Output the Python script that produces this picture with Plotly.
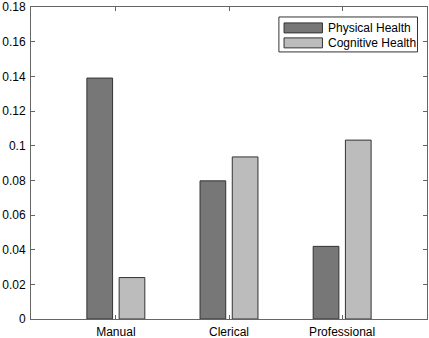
import plotly.graph_objects as go

categories = ["Manual", "Clerical", "Professional"]
series_names = ["Physical Health", "Cognitive Health"]
physical = [0.139, 0.0797, 0.0419]
cognitive = [0.0239, 0.0935, 0.1032]
y_ticks = [0, 0.02, 0.04, 0.06, 0.08, 0.1, 0.12, 0.14, 0.16, 0.18]
y_ticktext = ["0", "0.02", "0.04", "0.06", "0.08", "0.1", "0.12", "0.14", "0.16", "0.18"]

colors = ["#777777", "#bcbcbc"]
x_pos = [1, 2, 3]
FONT = "Liberation Sans, Arial, sans-serif"

fig = go.Figure()
for name, vals, col, off in [(series_names[0], physical, colors[0], -0.256),
                             (series_names[1], cognitive, colors[1], 0.029)]:
    fig.add_trace(go.Bar(
        x=x_pos, y=vals, name=name, width=0.227, offset=off,
        marker=dict(color=col, line=dict(color="#333333", width=1)),
        showlegend=False, hoverinfo="skip",
    ))

axis_col = "#666666"
fig.update_xaxes(
    range=[0.25, 3.75], tickvals=x_pos, ticktext=categories,
    ticks="inside", ticklen=4, tickcolor=axis_col, mirror="ticks",
    showline=True, linecolor=axis_col, linewidth=1, showgrid=False, zeroline=False,
    tickfont=dict(family=FONT, size=12, color="#000000"), ticklabeloverflow="allow",
    automargin=False, ticklabelstandoff=2,
)
fig.update_yaxes(
    range=[0, 0.18], tickvals=y_ticks, ticktext=y_ticktext,
    ticks="inside", ticklen=4, tickcolor=axis_col, mirror="ticks",
    showline=True, linecolor=axis_col, linewidth=1, showgrid=False, zeroline=False,
    tickfont=dict(family=FONT, size=12, color="#000000"), ticklabeloverflow="allow",
    automargin=False, ticklabelstandoff=2,
)

# custom MATLAB-style legend (paper coords, plot area 31..427 x 7..319 px)
shapes = [dict(type="rect", xref="paper", yref="paper", x0=0.626, x1=0.976, y0=0.856, y1=0.968,
               line=dict(color="#333333", width=1), fillcolor="white")]
annotations = []
sw_y = [(0.917, 0.949), (0.869, 0.901)]
for i, name in enumerate(series_names):
    y0, y1 = sw_y[i]
    shapes.append(dict(type="rect", xref="paper", yref="paper", x0=0.639, x1=0.736, y0=y0, y1=y1,
                       line=dict(color="#333333", width=1), fillcolor=colors[i]))
    annotations.append(dict(xref="paper", yref="paper", x=0.745, y=(y0 + y1) / 2, text=name,
                            showarrow=False, xanchor="left", yanchor="middle",
                            font=dict(family=FONT, size=12, color="#000000")))

fig.update_layout(
    width=429, height=338,
    margin=dict(l=31, r=2, t=7, b=19),
    plot_bgcolor="white", paper_bgcolor="white",
    shapes=shapes, annotations=annotations,
    font=dict(family=FONT, size=12, color="#000000"),
)
fig.write_html("out.html", config={"displayModeBar": False},
               post_script="document.body.style.margin='0';document.body.style.padding='0';")
